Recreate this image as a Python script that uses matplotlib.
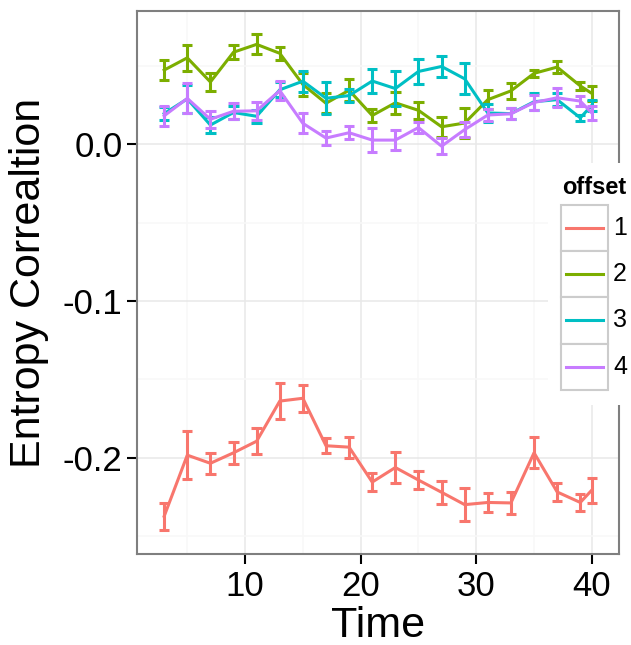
import matplotlib
matplotlib.use("Agg")
import matplotlib.pyplot as plt
from matplotlib.patches import Rectangle
import numpy as np

plt.rcParams['font.family'] = ['Liberation Sans', 'DejaVu Sans']

time = [3, 5, 7, 9, 11, 13, 15, 17, 19, 21, 23, 25, 27, 29, 31, 33, 35, 37, 39, 40]

# offset 1
off1 = [-0.2374, -0.1984, -0.2036, -0.1969, -0.1895, -0.1639, -0.1621, -0.1924, -0.1933, -0.2156,
        -0.2063, -0.2143, -0.2221, -0.2300, -0.2286, -0.2289, -0.1969, -0.2219, -0.2286, -0.2207]
err1 = [0.0087, 0.0154, 0.0068, 0.0071, 0.0082, 0.0114, 0.0085, 0.0048, 0.0067, 0.0056,
        0.0097, 0.0058, 0.0074, 0.0104, 0.0058, 0.0072, 0.0099, 0.0055, 0.0052, 0.0080]
# offset 2
off2 = [0.0474, 0.0552, 0.0398, 0.0588, 0.0638, 0.0581, 0.0382, 0.0262, 0.0345, 0.0184,
        0.0265, 0.0217, 0.0112, 0.0136, 0.0285, 0.0341, 0.0453, 0.0493, 0.0373, 0.0325]
err2 = [0.0064, 0.0082, 0.0055, 0.0046, 0.0064, 0.0043, 0.0071, 0.0064, 0.0069, 0.0039,
        0.0071, 0.0055, 0.0064, 0.0094, 0.0062, 0.0052, 0.0021, 0.0040, 0.0027, 0.0047]
# offset 3
off3 = [0.0196, 0.0290, 0.0123, 0.0203, 0.0179, 0.0348, 0.0403, 0.0294, 0.0311, 0.0404,
        0.0356, 0.0465, 0.0497, 0.0418, 0.0200, 0.0196, 0.0272, 0.0285, 0.0169, 0.0249]
err3 = [0.0040, 0.0088, 0.0053, 0.0041, 0.0040, 0.0048, 0.0067, 0.0101, 0.0039, 0.0074,
        0.0112, 0.0080, 0.0069, 0.0099, 0.0055, 0.0034, 0.0053, 0.0040, 0.0018, 0.0034]
# offset 4
off4 = [0.0182, 0.0293, 0.0160, 0.0211, 0.0214, 0.0343, 0.0134, 0.0040, 0.0074, 0.0027,
        0.0027, 0.0107, -0.0012, 0.0094, 0.0187, 0.0195, 0.0267, 0.0297, 0.0276, 0.0200]
err4 = [0.0063, 0.0096, 0.0054, 0.0050, 0.0058, 0.0061, 0.0064, 0.0045, 0.0043, 0.0074,
        0.0064, 0.0037, 0.0050, 0.0050, 0.0036, 0.0035, 0.0048, 0.0061, 0.0032, 0.0045]

labels = ['1', '2', '3', '4']
means = [off1, off2, off3, off4]
errs = [err1, err2, err3, err4]
colors = ['#F8766D', '#7CAE00', '#00BFC4', '#C77CFF']

W, H = 631, 645
fig = plt.figure(figsize=(W / 100, H / 100), dpi=100)
ax = fig.add_axes([137 / W, (H - 554) / H, 482 / W, 543 / H])

for m, e, c in zip(means, errs, colors):
    x = np.array(time)
    m = np.array(m)
    e = np.array(e)
    ax.plot(x, m, color=c, lw=2.2, zorder=3)
    ax.vlines(x, m - e, m + e, color=c, lw=2.2, zorder=3)
    ax.hlines(m - e, x - 0.45, x + 0.45, color=c, lw=2.2, zorder=3)
    ax.hlines(m + e, x - 0.45, x + 0.45, color=c, lw=2.2, zorder=3)

ax.set_xlim(0.65, 42.35)
ax.set_ylim(-0.2615, 0.0851)
ax.set_xticks([10, 20, 30, 40])
ax.set_yticks([-0.2, -0.1, 0.0])
ax.set_yticklabels(['-0.2', '-0.1', '0.0'])
ax.set_xticks([5, 15, 25, 35], minor=True)
ax.set_yticks([-0.25, -0.15, -0.05, 0.05], minor=True)
ax.grid(which='major', color='#E8E8E8', lw=1.1)
ax.grid(which='minor', color='#F8F8F8', lw=1.1)
ax.set_axisbelow(True)
ax.tick_params(which='major', labelsize=25, length=7, width=1.5, color='black',
               labelcolor='black')
ax.tick_params(axis='x', which='major', pad=4.5)
ax.tick_params(axis='y', which='major', pad=3.5)
ax.tick_params(which='minor', length=0)
for s in ax.spines.values():
    s.set_color('#7F7F7F')
    s.set_linewidth(1.5)

ax.set_xlabel('Time', fontsize=31, labelpad=2)
ax.set_ylabel('Entropy Correaltion', fontsize=31)
ax.yaxis.set_label_coords(-0.182, 0.5)

# legend drawn in pixel coordinates
lax = fig.add_axes([548 / W, (H - 405) / H, (W - 548) / W, (405 - 163) / H])
lax.set_xlim(548, W)
lax.set_ylim(405, 163)
lax.axis('off')
lax.add_patch(Rectangle((548, 163), W - 548, 242, facecolor='white', edgecolor='none'))
lax.text(562, 187, 'offset', fontsize=17, fontweight='bold', va='center', ha='left')
for i, (lab, c) in enumerate(zip(labels, colors)):
    y0 = 205 + i * 46.2
    lax.add_patch(Rectangle((561, y0), 47, 46.2, facecolor='white', edgecolor='#CCCCCC', lw=1.5))
    lax.plot([566, 603], [y0 + 23, y0 + 23], color=c, lw=2.2)
    lax.text(613, y0 + 23, lab, fontsize=18, va='center', ha='left')

fig.savefig('out.png', dpi=100)
